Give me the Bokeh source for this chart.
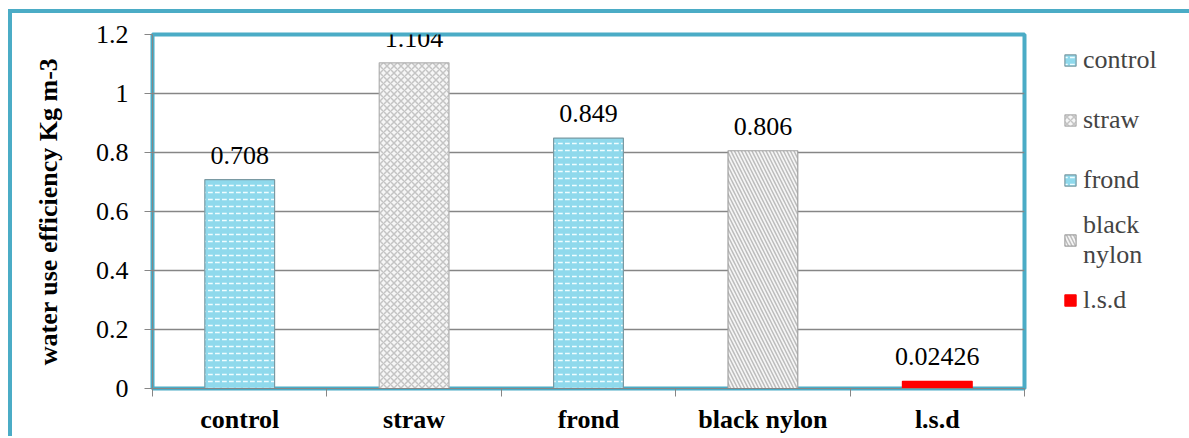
import numpy as np
from bokeh.plotting import figure
from bokeh.models import (ColumnDataSource, FixedTicker, Legend, LegendItem, LabelSet, Range1d)
from bokeh.embed import file_html
from bokeh.resources import INLINE

categories = ["control", "straw", "frond", "black nylon", "l.s.d"]
legend_labels = ["control", "straw", "frond", "black\nnylon", "l.s.d"]
values = [0.708, 1.104, 0.849, 0.806, 0.02426]
value_labels = ["0.708", "1.104", "0.849", "0.806", "0.02426"]
y_ticks = [0, 0.2, 0.4, 0.6, 0.8, 1.0, 1.2]
y_tick_labels = ["0", "0.2", "0.4", "0.6", "0.8", "1", "1.2"]

fill_colors = ["#8fd9ec", "#f6f6f6", "#8fd9ec", "#f6f6f6", "#ff0000"]
hatch_patterns = ["horizontal_dash", "diagonal_cross", "horizontal_dash", "left_diagonal_line", "blank"]
hatch_colors = ["#effdff", "#c4c4c4", "#effdff", "#bdbdbd", "#ff0000"]
line_colors = ["#7a9aa3", "#b0b0b0", "#7a9aa3", "#a0a0a0", "#ff0000"]

xs = np.arange(len(categories)) + 0.5
src = ColumnDataSource(dict(x=xs, top=values, lab=value_labels, fill=fill_colors,
                            hp=hatch_patterns, hc=hatch_colors, lc=line_colors))

FONT = "Liberation Serif"
TEAL = "#4bacc6"

p = figure(frame_width=872, frame_height=354, output_backend="svg", toolbar_location=None,
           x_range=Range1d(0, len(categories)), y_range=Range1d(0, 1.2),
           min_border_left=140, min_border_top=21, min_border_bottom=45, min_border_right=165)
p.styles = {"border-left": "4px solid " + TEAL, "border-top": "4px solid " + TEAL,
            "margin-left": "8px", "margin-top": "9px"}

r = p.vbar(x="x", top="top", width=0.4, bottom=0, source=src, fill_color="fill",
           hatch_pattern="hp", hatch_color="hc", hatch_scale=7, hatch_weight=1.5,
           line_color="lc", line_width=1.2)

labels = LabelSet(x="x", y="top", text="lab", source=src, text_align="center",
                  text_baseline="bottom", y_offset=16, text_font=FONT, text_font_size="26px",
                  text_color="#000000", level="overlay")
p.add_layout(labels)

# axes
p.yaxis.ticker = FixedTicker(ticks=y_ticks)
p.yaxis.major_label_overrides = {t: l for t, l in zip(y_ticks, y_tick_labels)}
p.yaxis.major_label_text_font = FONT
p.yaxis.major_label_text_font_size = "26px"
p.yaxis.major_label_text_color = "#000000"
p.yaxis.axis_line_color = "#868686"
p.yaxis.major_tick_line_color = "#868686"
p.yaxis.major_tick_out = 8
p.yaxis.major_tick_in = 0
p.yaxis.minor_tick_line_color = None
p.yaxis.axis_label = "water use efficiency Kg m-3"
p.yaxis.axis_label_text_font = FONT
p.yaxis.axis_label_text_font_style = "bold"
p.yaxis.axis_label_text_font_size = "26px"
p.yaxis.axis_label_text_color = "#000000"
p.yaxis.major_label_standoff = 16
p.yaxis.axis_label_standoff = 30

p.xaxis.ticker = FixedTicker(ticks=list(xs), minor_ticks=list(range(len(categories) + 1)))
p.xaxis.major_label_overrides = {float(x): c for x, c in zip(xs, categories)}
p.xaxis.major_label_text_font = FONT
p.xaxis.major_label_text_font_style = "bold"
p.xaxis.major_label_text_font_size = "26px"
p.xaxis.major_label_text_color = "#000000"
p.xaxis.major_tick_line_color = None
p.xaxis.minor_tick_line_color = "#868686"
p.xaxis.minor_tick_out = 8
p.xaxis.minor_tick_in = 0
p.xaxis.axis_line_color = "#868686"
p.xaxis.major_label_standoff = 8

p.xgrid.grid_line_color = None
p.ygrid.ticker = FixedTicker(ticks=y_ticks)
p.ygrid.grid_line_color = "#868686"
p.ygrid.grid_line_width = 1.5

p.outline_line_color = TEAL
p.outline_line_width = 4

items = [LegendItem(label=legend_labels[i], renderers=[r], index=i) for i in range(len(categories))]
legend = Legend(items=items, location=(39, 58), border_line_color=None,
                background_fill_alpha=0, label_text_font=FONT, label_text_font_size="26px",
                glyph_width=14, glyph_height=14, label_standoff=6, spacing=0,
                padding=0, margin=0, label_height=60, label_text_line_height=1.15)
p.add_layout(legend, "right")

open("out.html", "w").write(file_html(p, INLINE))
